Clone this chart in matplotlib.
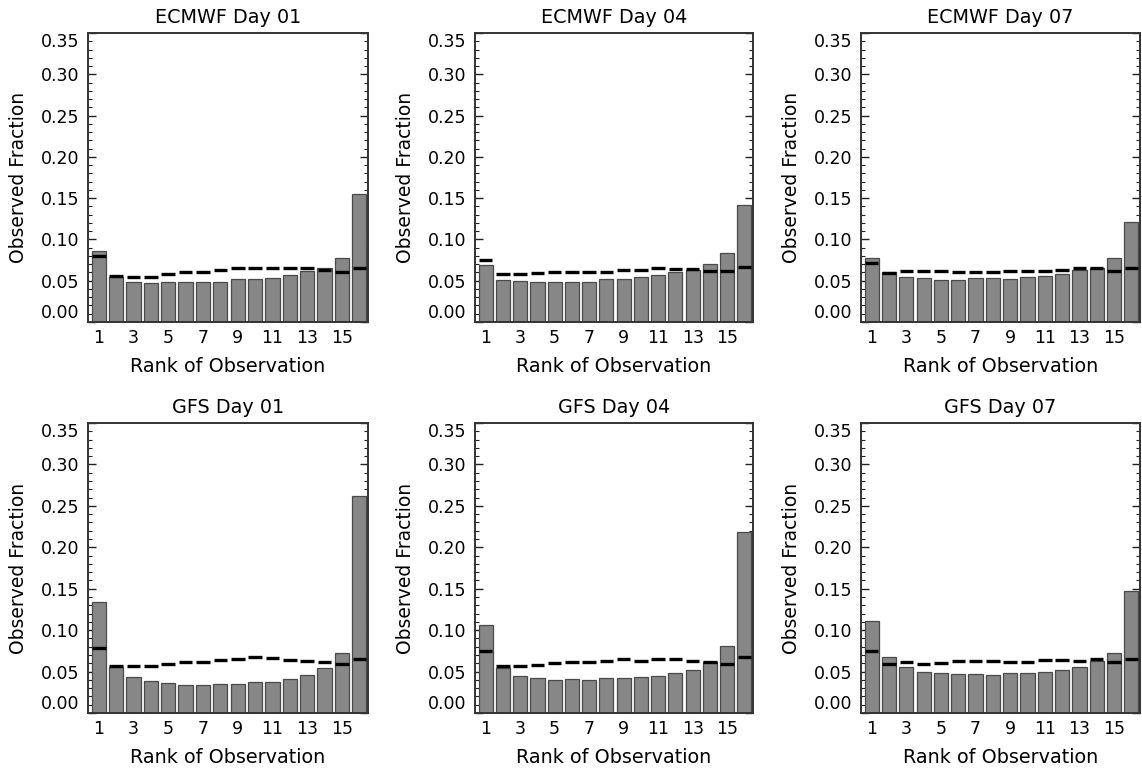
import matplotlib
matplotlib.use("Agg")
import matplotlib.pyplot as plt
import numpy as np
from matplotlib.ticker import MultipleLocator, FixedLocator

# ---------------- data ----------------
ranks = list(range(1, 17))
xtick_labels = ["1", "3", "5", "7", "9", "11", "13", "15"]
titles = ["ECMWF Day 01", "ECMWF Day 04", "ECMWF Day 07",
          "GFS Day 01", "GFS Day 04", "GFS Day 07"]

ecmwf_d01_obs = [0.086, 0.054, 0.049, 0.047, 0.048, 0.048, 0.048, 0.049,
                 0.052, 0.052, 0.053, 0.057, 0.062, 0.065, 0.077, 0.155]
ecmwf_d01_exp = [0.080, 0.056, 0.055, 0.055, 0.058, 0.060, 0.060, 0.063,
                 0.066, 0.065, 0.065, 0.066, 0.065, 0.063, 0.060, 0.065]

ecmwf_d04_obs = [0.069, 0.051, 0.050, 0.048, 0.048, 0.048, 0.048, 0.052,
                 0.052, 0.054, 0.057, 0.061, 0.063, 0.070, 0.083, 0.142]
ecmwf_d04_exp = [0.075, 0.058, 0.058, 0.059, 0.060, 0.061, 0.060, 0.061,
                 0.063, 0.063, 0.065, 0.064, 0.064, 0.062, 0.062, 0.067]

ecmwf_d07_obs = [0.077, 0.060, 0.054, 0.053, 0.051, 0.051, 0.053, 0.053,
                 0.052, 0.055, 0.056, 0.058, 0.063, 0.066, 0.078, 0.121]
ecmwf_d07_exp = [0.072, 0.059, 0.062, 0.062, 0.062, 0.061, 0.060, 0.061,
                 0.062, 0.062, 0.062, 0.063, 0.065, 0.065, 0.062, 0.066]

gfs_d01_obs = [0.134, 0.055, 0.044, 0.039, 0.036, 0.034, 0.034, 0.035,
               0.035, 0.037, 0.038, 0.041, 0.046, 0.054, 0.073, 0.262]
gfs_d01_exp = [0.078, 0.057, 0.057, 0.057, 0.059, 0.062, 0.061, 0.064,
               0.065, 0.067, 0.066, 0.064, 0.063, 0.062, 0.059, 0.065]

gfs_d04_obs = [0.106, 0.054, 0.045, 0.042, 0.040, 0.041, 0.040, 0.042,
               0.042, 0.044, 0.045, 0.048, 0.052, 0.061, 0.081, 0.218]
gfs_d04_exp = [0.075, 0.057, 0.057, 0.058, 0.060, 0.061, 0.062, 0.063,
               0.065, 0.063, 0.065, 0.065, 0.063, 0.062, 0.059, 0.067]

gfs_d07_obs = [0.111, 0.067, 0.055, 0.050, 0.048, 0.047, 0.047, 0.046,
               0.048, 0.048, 0.049, 0.052, 0.055, 0.063, 0.073, 0.147]
gfs_d07_exp = [0.075, 0.059, 0.061, 0.059, 0.060, 0.063, 0.063, 0.063,
               0.062, 0.062, 0.064, 0.064, 0.063, 0.065, 0.061, 0.065]

observed = [ecmwf_d01_obs, ecmwf_d04_obs, ecmwf_d07_obs,
            gfs_d01_obs, gfs_d04_obs, gfs_d07_obs]
expected = [ecmwf_d01_exp, ecmwf_d04_exp, ecmwf_d07_exp,
            gfs_d01_exp, gfs_d04_exp, gfs_d07_exp]

# ---------------- layout ----------------
W, H = 1142, 769
fig = plt.figure(figsize=(W / 100, H / 100), dpi=100)
fig.patch.set_facecolor("white")

col_px = [(88, 280), (475, 278), (861, 279)]
row_px = [(33, 322), (423, 713)]

plt.rcParams["font.family"] = ["DejaVu Sans"]

for idx in range(6):
    r, c = divmod(idx, 3)
    left, width = col_px[c]
    top, bottom = row_px[r]
    ax = fig.add_axes([left / W, 1 - bottom / H, width / W, (bottom - top) / H])

    x = np.array(ranks)
    ax.bar(x, observed[idx], width=0.82, color="#878787",
           edgecolor="#4a4a4a", linewidth=0.9, zorder=2)
    ax.hlines(expected[idx], x - 0.39, x + 0.39, colors="black",
              linewidth=2.4, zorder=3)

    ax.set_xlim(0.38, 16.5)
    ax.set_ylim(0, 0.35)

    yt = np.arange(0, 0.351, 0.05)
    ax.set_yticks(yt)
    ax.set_yticklabels([f"{v:.2f}" for v in yt], fontsize=12.5)
    ax.yaxis.set_minor_locator(MultipleLocator(0.01))
    ax.xaxis.set_major_locator(FixedLocator([1, 3, 5, 7, 9, 11, 13, 15]))
    ax.set_xticklabels(xtick_labels, fontsize=12.5)

    ax.tick_params(axis="y", which="major", direction="in", length=6,
                   width=1.0, left=True, right=True, pad=6, colors="#222222",
                   labelcolor="black")
    ax.tick_params(axis="y", which="minor", direction="in", length=3,
                   width=0.8, left=True, right=True, colors="#222222")
    ax.tick_params(axis="x", which="major", direction="in", length=5,
                   width=1.0, bottom=True, top=False, pad=5, labelcolor="black")

    # clamp first / last y labels inside the axes like the original
    ylabels = ax.get_yticklabels()
    ylabels[0].set_va("bottom")
    ylabels[-1].set_va("top")

    for sp in ax.spines.values():
        sp.set_linewidth(1.4)
        sp.set_color("#333333")

    ax.set_title(titles[idx], fontsize=13.8, pad=7)
    ax.set_ylabel("Observed Fraction", fontsize=13.5)
    ax.set_xlabel("Rank of Observation", fontsize=13.8)
    ax.yaxis.set_label_coords(-0.215, 0.5)
    ax.xaxis.set_label_coords(0.5, -0.12)

fig.savefig("out.png", dpi=100, facecolor="white")
